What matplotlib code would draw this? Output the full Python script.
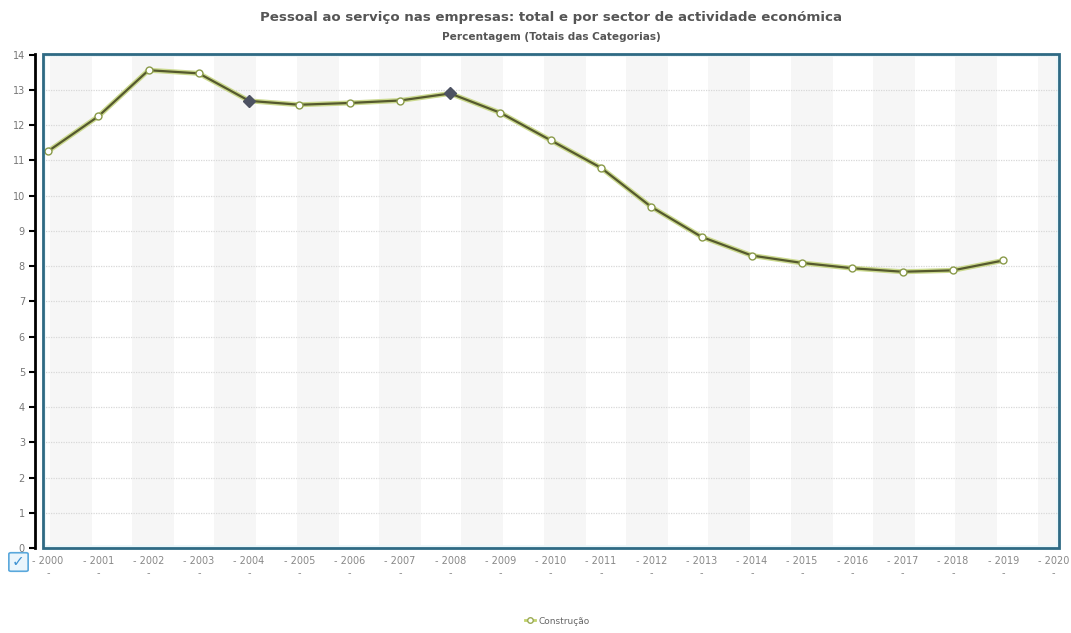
import numpy as np
import matplotlib
matplotlib.use('Agg')
import matplotlib.pyplot as plt
from matplotlib.lines import Line2D
from matplotlib.patches import Rectangle, FancyBboxPatch

# data
years = list(range(2000, 2020))
construcao = [11.26, 12.25, 13.56, 13.47, 12.69, 12.58, 12.63, 12.70, 12.90, 12.35,
              11.57, 10.79, 9.68, 8.83, 8.30, 8.09, 7.94, 7.84, 7.88, 8.16]
highlighted = [2004, 2008]
tick_years = list(range(2000, 2021))
y_ticks = list(range(0, 15))

title = 'Pessoal ao serviço nas empresas: total e por sector de actividade económica'
subtitle = 'Percentagem (Totais das Categorias)'
series_name = 'Construção'

plt.rcParams['font.family'] = ['DejaVu Sans']

fig = plt.figure(figsize=(10.71, 6.33), dpi=100)
ax = fig.add_axes([43 / 1071, 1 - 548 / 633, 1016 / 1071, 494 / 633])
ax.set_xlim(1999.9, 2020.11)
ax.set_ylim(0, 14.02)

# alternating light columns in the background
for x0 in np.arange(2000.03, 2020.1, 1.638):
    ax.axvspan(x0, x0 + 0.836, color='#f6f6f6', lw=0, zorder=0)

# faint cyan glow along the frame
ax.add_patch(Rectangle((0, 0), 1, 1, transform=ax.transAxes, fill=False,
                       edgecolor='#eaf7fb', lw=4, zorder=1))
# dotted horizontal grid
for yv in y_ticks[1:]:
    ax.axhline(yv, color='#d8d8d8', lw=0.9, linestyle=(0, (1, 1)), zorder=1)

# series: light green halo + dark olive line
ax.plot(years, construcao, color='#cbd98e', lw=3.6, solid_capstyle='round', zorder=3)
ax.plot(years, construcao, color='#55592e', lw=1.6, zorder=4)
ax.plot(years, construcao, linestyle='', marker='o', markersize=5,
        markerfacecolor='white', markeredgecolor='#8a9a4a', markeredgewidth=1.0, zorder=5)
hx = [y for y in years if y in highlighted]
hy = [construcao[years.index(y)] for y in hx]
ax.plot(hx, hy, linestyle='', marker='D', markersize=6, color='#4d5262', zorder=6)

# frame around the plot area
ax.add_patch(Rectangle((0, 0), 1, 1, transform=ax.transAxes, fill=False,
                       edgecolor='#2f6a84', lw=2, clip_on=False, zorder=7))

# axes styling
for s in ['top', 'right', 'bottom']:
    ax.spines[s].set_visible(False)
ax.spines['left'].set_position(('outward', 6))
ax.spines['left'].set_color('black')
ax.spines['left'].set_linewidth(2)
ax.set_yticks(y_ticks)
ax.set_yticklabels([str(v) for v in y_ticks])
ax.tick_params(axis='y', length=4, width=1.5, colors='black', labelcolor='#777777',
               labelsize=7, pad=3)
ax.set_xticks(tick_years)
ax.set_xticklabels(['- %d\n-' % y for y in tick_years])
ax.tick_params(axis='x', length=0, labelcolor='#888888', labelsize=7, pad=6)

# titles
fig.text(551 / 1071, 1 - 18 / 633, title, ha='center', va='center',
         fontsize=9.6, fontweight='bold', color='#555555')
fig.text(551 / 1071, 1 - 37 / 633, subtitle, ha='center', va='center',
         fontsize=7.6, fontweight='bold', color='#555555')

# legend at bottom
handle = Line2D([], [], color='#c2d36a', lw=2, marker='o', markersize=4,
                markerfacecolor='white', markeredgecolor='#9aaa55')
fig.legend([handle], [series_name], loc='center', bbox_to_anchor=(0.52, 1 - 621 / 633),
           frameon=False, fontsize=6.5, labelcolor='#666666', handlelength=1.2,
           handletextpad=0.3)

# small checkbox in the lower left corner
box = FancyBboxPatch((11 / 1071, 1 - 570 / 633), 15 / 1071, 16 / 633,
                     boxstyle='round,pad=0.002', transform=fig.transFigure,
                     facecolor='#eaf5fc', edgecolor='#5aa8dc', lw=1.2)
fig.add_artist(box)
fig.text(18.5 / 1071, 1 - 562 / 633, '✓', ha='center', va='center',
         fontsize=11, color='#3f92d2')

fig.savefig('out.png', dpi=100)
